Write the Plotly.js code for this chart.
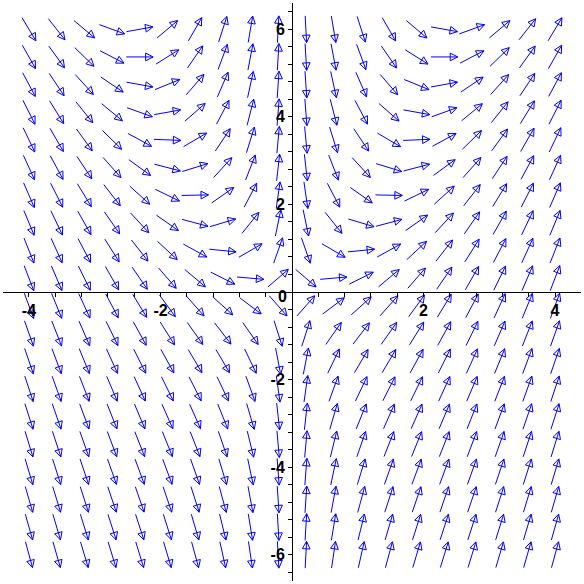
<!DOCTYPE html>
<html>
<head>
<meta charset="utf-8">
<script src="https://cdn.plot.ly/plotly-3.0.1.min.js"></script>
<style>html,body{margin:0;padding:0;background:#fff;}#plot{width:584px;height:584px;}</style>
</head>
<body>
<div id="plot"></div>
<script>
// Grid of arrow centres (Maple dfieldplot, 20 x 20)
const xs = [-4, -3.579, -3.158, -2.737, -2.316, -1.895, -1.474, -1.053, -0.632, -0.211,
            0.211, 0.632, 1.053, 1.474, 1.895, 2.316, 2.737, 3.158, 3.579, 4];
const ys = [-6, -5.368, -4.737, -4.105, -3.474, -2.842, -2.211, -1.579, -0.947, -0.316,
            0.316, 0.947, 1.579, 2.211, 2.842, 3.474, 4.105, 4.737, 5.368, 6];

// Slope dy/dx at each grid point, one row per y (bottom to top), columns follow xs
const slopes = [
  [-5.50,-5.26,-5.06,-4.93,-4.91,-5.06,-5.55,-6.75,-10.13,-28.71, 28.71,10.13,6.75,5.55,5.06,4.91,4.93,5.06,5.26,5.50],
  [-5.34,-5.08,-4.86,-4.70,-4.63,-4.73,-5.12,-6.15,-9.13,-25.71, 25.71,9.13,6.15,5.12,4.73,4.63,4.70,4.86,5.08,5.34],
  [-5.18,-4.90,-4.66,-4.47,-4.36,-4.39,-4.69,-5.55,-8.13,-22.71, 22.71,8.13,5.55,4.69,4.39,4.36,4.47,4.66,4.90,5.18],
  [-5.03,-4.73,-4.46,-4.24,-4.09,-4.06,-4.26,-4.95,-7.13,-19.71, 19.71,7.13,4.95,4.26,4.06,4.09,4.24,4.46,4.73,5.03],
  [-4.87,-4.55,-4.26,-4.01,-3.82,-3.73,-3.83,-4.35,-6.13,-16.71, 16.71,6.13,4.35,3.83,3.73,3.82,4.01,4.26,4.55,4.87],
  [-4.71,-4.37,-4.06,-3.78,-3.54,-3.39,-3.40,-3.75,-5.13,-13.71, 13.71,5.13,3.75,3.40,3.39,3.54,3.78,4.06,4.37,4.71],
  [-4.55,-4.20,-3.86,-3.54,-3.27,-3.06,-2.97,-3.15,-4.13,-10.71, 10.71,4.13,3.15,2.97,3.06,3.27,3.54,3.86,4.20,4.55],
  [-4.39,-4.02,-3.66,-3.31,-3.00,-2.73,-2.55,-2.55,-3.13,-7.71, 7.71,3.13,2.55,2.55,2.73,3.00,3.31,3.66,4.02,4.39],
  [-4.24,-3.84,-3.46,-3.08,-2.72,-2.39,-2.12,-1.95,-2.13,-4.71, 4.71,2.13,1.95,2.12,2.39,2.72,3.08,3.46,3.84,4.24],
  [-4.08,-3.67,-3.26,-2.85,-2.45,-2.06,-1.69,-1.35,-1.13,-1.71, 1.71,1.13,1.35,1.69,2.06,2.45,2.85,3.26,3.67,4.08],
  [-3.92,-3.49,-3.06,-2.62,-2.18,-1.73,-1.26,-0.75,-0.13,1.29, -1.29,0.13,0.75,1.26,1.73,2.18,2.62,3.06,3.49,3.92],
  [-3.76,-3.31,-2.86,-2.39,-1.91,-1.39,-0.83,-0.15,0.87,4.29, -4.29,-0.87,0.15,0.83,1.39,1.91,2.39,2.86,3.31,3.76],
  [-3.61,-3.14,-2.66,-2.16,-1.63,-1.06,-0.40,0.45,1.87,7.29, -7.29,-1.87,-0.45,0.40,1.06,1.63,2.16,2.66,3.14,3.61],
  [-3.45,-2.96,-2.46,-1.93,-1.36,-0.73,0.03,1.05,2.87,10.29, -10.29,-2.87,-1.05,-0.03,0.73,1.36,1.93,2.46,2.96,3.45],
  [-3.29,-2.78,-2.26,-1.70,-1.09,-0.39,0.46,1.65,3.87,13.29, -13.29,-3.87,-1.65,-0.46,0.39,1.09,1.70,2.26,2.78,3.29],
  [-3.13,-2.61,-2.06,-1.47,-0.82,-0.06,0.88,2.25,4.87,16.29, -16.29,-4.87,-2.25,-0.88,0.06,0.82,1.47,2.06,2.61,3.13],
  [-2.97,-2.43,-1.86,-1.24,-0.54,0.27,1.31,2.85,5.87,19.29, -19.29,-5.87,-2.85,-1.31,-0.27,0.54,1.24,1.86,2.43,2.97],
  [-2.82,-2.26,-1.66,-1.01,-0.27,0.61,1.74,3.45,6.87,22.29, -22.29,-6.87,-3.45,-1.74,-0.61,0.27,1.01,1.66,2.26,2.82],
  [-2.66,-2.08,-1.46,-0.78,0.00,0.94,2.17,4.05,7.87,25.29, -25.29,-7.87,-4.05,-2.17,-0.94,0.00,0.78,1.46,2.08,2.66],
  [-2.50,-1.90,-1.26,-0.55,0.27,1.27,2.60,4.65,8.87,28.29, -28.29,-8.87,-4.65,-2.60,-1.27,-0.27,0.55,1.26,1.90,2.50]
];

const xTickVals = [-4, -2, 2, 4];
const xTickText = ['-4', '-2', '2', '4'];
const yTickVals = [-6, -4, -2, 2, 4, 6];
const yTickText = ['-6', '-4', '-2', '2', '4', '6'];

// Build arrow polylines (shaft + hollow triangular head) in data units
const hx = xs[1] - xs[0], hy = ys[1] - ys[0];
const LEN = 0.97, HEADL = 0.27, HEADW = 0.14;
const ax = [], ay = [];
for (let j = 0; j < ys.length; j++) {
  for (let i = 0; i < xs.length; i++) {
    const s = slopes[j][i];
    let du = 1, dv = s * hx / hy;
    const n = Math.hypot(du, dv); du /= n; dv /= n;
    const tu = -LEN / 2 * du, tv = -LEN / 2 * dv;
    const pu = LEN / 2 * du, pv = LEN / 2 * dv;
    const bu = pu - HEADL * du, bv = pv - HEADL * dv;
    const c1u = bu - HEADW * dv, c1v = bv + HEADW * du;
    const c2u = bu + HEADW * dv, c2v = bv - HEADW * du;
    const pts = [[tu, tv], [pu, pv], [c1u, c1v], [c2u, c2v], [pu, pv]];
    for (const p of pts) { ax.push(xs[i] + p[0] * hx); ay.push(ys[j] + p[1] * hy); }
    ax.push(null); ay.push(null);
  }
}

const tickFont = {family: 'Liberation Sans, Arial, sans-serif', size: 16, color: '#000', weight: 'bold'};

const data = [{
  type: 'scatter', mode: 'lines', x: ax, y: ay,
  line: {color: '#0000ff', width: 1}, hoverinfo: 'skip', showlegend: false
}];

const layout = {
  width: 584, height: 584,
  margin: {l: 3, r: 3, t: 3, b: 3},
  paper_bgcolor: '#ffffff', plot_bgcolor: '#ffffff',
  showlegend: false,
  xaxis: {
    range: [-4.395, 4.395], anchor: 'free', position: 0.5,
    showline: true, linecolor: '#000', linewidth: 1,
    showgrid: false, zeroline: false,
    tickmode: 'array', tickvals: xTickVals, ticktext: xTickText,
    ticks: 'outside', ticklen: 4, tickcolor: '#000', tickwidth: 1,
    tickfont: tickFont,
    minor: {tickmode: 'linear', tick0: 0, dtick: 0.4, ticks: 'outside', ticklen: 4, tickcolor: '#000', showgrid: false}
  },
  yaxis: {
    range: [-6.6, 6.6], anchor: 'free', position: 0.5,
    showline: true, linecolor: '#000', linewidth: 1,
    showgrid: false, zeroline: false,
    tickmode: 'array', tickvals: yTickVals, ticktext: yTickText,
    ticks: 'outside', ticklen: 4, tickcolor: '#000', tickwidth: 1,
    tickfont: tickFont,
    minor: {tickmode: 'linear', tick0: 0, dtick: 0.4, ticks: 'outside', ticklen: 4, tickcolor: '#000', showgrid: false}
  },
  annotations: [{
    x: -0.15, y: -0.11, xref: 'x', yref: 'y', text: '0', showarrow: false,
    xanchor: 'center', yanchor: 'middle', font: tickFont
  }]
};

Plotly.newPlot('plot', data, layout, {displayModeBar: false, staticPlot: true});
</script>
</body>
</html>
